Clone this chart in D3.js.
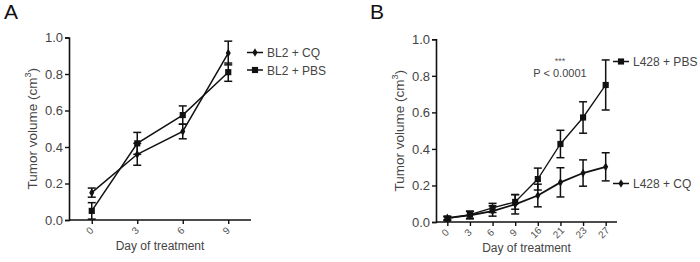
<!DOCTYPE html>
<html>
<head>
<meta charset="utf-8">
<script src="https://cdn.jsdelivr.net/npm/d3@7"></script>
<style>
  body { margin: 0; background: #fff; }
  svg { font-family: Arial, "Liberation Sans", sans-serif; }
</style>
</head>
<body>
<div id="chart"></div>
<script>
// Panel A data
const daysA = ["0", "3", "6", "9"];
const bl2CQ = [0.15, 0.36, 0.485, 0.915];
const bl2CQErr = [0.025, 0.06, 0.04, 0.065];
const bl2PBS = [0.05, 0.42, 0.575, 0.81];
const bl2PBSErr = [0.045, 0.06, 0.05, 0.05];

// Panel B data
const daysB = ["0", "3", "6", "9", "16", "21", "23", "27"];
const l428PBS = [0.018, 0.04, 0.077, 0.11, 0.235, 0.427, 0.572, 0.75];
const l428PBSErr = [0.01, 0.02, 0.025, 0.04, 0.06, 0.075, 0.086, 0.137];
const l428CQ = [0.022, 0.037, 0.06, 0.097, 0.145, 0.217, 0.268, 0.302];
const l428CQErr = [0.01, 0.02, 0.028, 0.053, 0.062, 0.08, 0.072, 0.077];

const yTicks = [0, 0.2, 0.4, 0.6, 0.8, 1.0];

const width = 700, height = 262;
const svg = d3.select("#chart").append("svg")
  .attr("width", width)
  .attr("height", height);

const square = d3.symbol().type(d3.symbolSquare).size(38);
const diamond = d3.symbol().type(d3.symbolDiamond).size(22);

function drawPanel(opt) {
  const g = svg.append("g");

  const x = d3.scalePoint()
    .domain(opt.days)
    .range([opt.left, opt.right])
    .padding(0.5);

  const y = d3.scaleLinear()
    .domain([0, 1])
    .range([opt.bottom, opt.top]);

  // panel letter
  g.append("text")
    .attr("x", opt.letterX)
    .attr("y", 19)
    .attr("font-size", 21)
    .attr("fill", "#111")
    .text(opt.letter);

  // y axis
  const yAxis = g.append("g")
    .attr("transform", `translate(${opt.left},0)`)
    .call(d3.axisLeft(y).tickValues(yTicks).tickFormat(d3.format(".1f")).tickSize(4).tickPadding(2));
  yAxis.select(".domain").attr("stroke", "#111").attr("stroke-width", 1.6);
  yAxis.selectAll(".tick line").attr("stroke", "#111").attr("stroke-width", 1.4);
  yAxis.selectAll("text").attr("font-size", 13).attr("fill", "#444")
    .attr("font-family", "Arial, 'Liberation Sans', sans-serif");

  // x axis
  const xAxis = g.append("g")
    .attr("transform", `translate(0,${opt.bottom})`)
    .call(d3.axisBottom(x).tickSize(4).tickSizeOuter(0));
  xAxis.select(".domain").attr("stroke", "#111").attr("stroke-width", 1.6)
    .attr("d", `M${opt.left},0H${opt.right}`);
  xAxis.selectAll(".tick line").attr("stroke", "#111").attr("stroke-width", 1.4);
  xAxis.selectAll("text")
    .attr("font-size", 10)
    .attr("fill", "#555")
    .attr("font-family", "Arial, 'Liberation Sans', sans-serif")
    .attr("text-anchor", "middle")
    .attr("dy", 0)
    .attr("y", 0)
    .attr("transform", "translate(0,13) rotate(-45)");

  // axis titles
  g.append("text")
    .attr("x", (opt.left + opt.right) / 2)
    .attr("y", opt.bottom + 30)
    .attr("text-anchor", "middle")
    .attr("font-size", 12)
    .attr("fill", "#444")
    .text("Day of treatment");

  const yt = g.append("text")
    .attr("transform", `translate(${opt.left - 32},${(opt.top + opt.bottom) / 2}) rotate(-90)`)
    .attr("text-anchor", "middle")
    .attr("font-size", 13.5)
    .attr("fill", "#444");
  yt.append("tspan").text("Tumor volume (cm");
  yt.append("tspan").attr("font-size", 9).attr("dy", -6).text("3");
  yt.append("tspan").attr("dy", 6).text(")");

  const line = d3.line()
    .x((d, i) => x(opt.days[i]))
    .y(d => y(d));

  opt.series.forEach(s => {
    // error bars
    const eb = g.append("g");
    s.values.forEach((v, i) => {
      const cx = x(opt.days[i]);
      const hi = y(v + s.err[i]), lo = y(Math.max(0, v - s.err[i]));
      eb.append("line").attr("x1", cx).attr("x2", cx).attr("y1", hi).attr("y2", lo)
        .attr("stroke", "#111").attr("stroke-width", 1.5);
      [hi, lo].forEach(yy => {
        eb.append("line").attr("x1", cx - 4).attr("x2", cx + 4).attr("y1", yy).attr("y2", yy)
          .attr("stroke", "#111").attr("stroke-width", 1.5);
      });
    });

    g.append("path")
      .datum(s.values)
      .attr("d", line)
      .attr("fill", "none")
      .attr("stroke", "#111")
      .attr("stroke-width", s.lineWidth);

    g.selectAll(null)
      .data(s.values)
      .join("path")
      .attr("d", s.symbol)
      .attr("transform", (d, i) => `translate(${x(opt.days[i])},${y(d)})`)
      .attr("fill", "#111");

    // legend
    const lg = g.append("g").attr("transform", `translate(${s.legendX},${s.legendY})`);
    lg.append("line").attr("x1", 0).attr("x2", 16).attr("y1", 0).attr("y2", 0)
      .attr("stroke", "#111").attr("stroke-width", 1.5);
    lg.append("path").attr("d", s.symbol).attr("transform", "translate(8,0)").attr("fill", "#111");
    lg.append("text")
      .attr("x", 20)
      .attr("y", 4.5)
      .attr("font-size", 12)
      .attr("fill", "#444")
      .text(s.name);
  });

  return { g, x, y };
}

drawPanel({
  letter: "A", letterX: 4,
  days: daysA,
  left: 69, right: 251, top: 37.5, bottom: 220,
  series: [
    { name: "BL2 + CQ", values: bl2CQ, err: bl2CQErr, symbol: diamond, lineWidth: 1.5, legendX: 247, legendY: 52.5 },
    { name: "BL2 + PBS", values: bl2PBS, err: bl2PBSErr, symbol: square, lineWidth: 1.5, legendX: 247, legendY: 70 }
  ]
});

const panelB = drawPanel({
  letter: "B", letterX: 370,
  days: daysB,
  left: 436, right: 617, top: 39.3, bottom: 222,
  series: [
    { name: "L428 + PBS", values: l428PBS, err: l428PBSErr, symbol: square, lineWidth: 1.3, legendX: 613, legendY: 61.5 },
    { name: "L428 + CQ", values: l428CQ, err: l428CQErr, symbol: diamond, lineWidth: 1.8, legendX: 613, legendY: 183.5 }
  ]
});

// significance annotation
panelB.g.append("text")
  .attr("x", 560).attr("y", 64)
  .attr("text-anchor", "middle")
  .attr("font-size", 9)
  .attr("fill", "#555")
  .text("***");
panelB.g.append("text")
  .attr("x", 560).attr("y", 77)
  .attr("text-anchor", "middle")
  .attr("font-size", 11)
  .attr("fill", "#444")
  .text("P < 0.0001");
</script>
</body>
</html>
